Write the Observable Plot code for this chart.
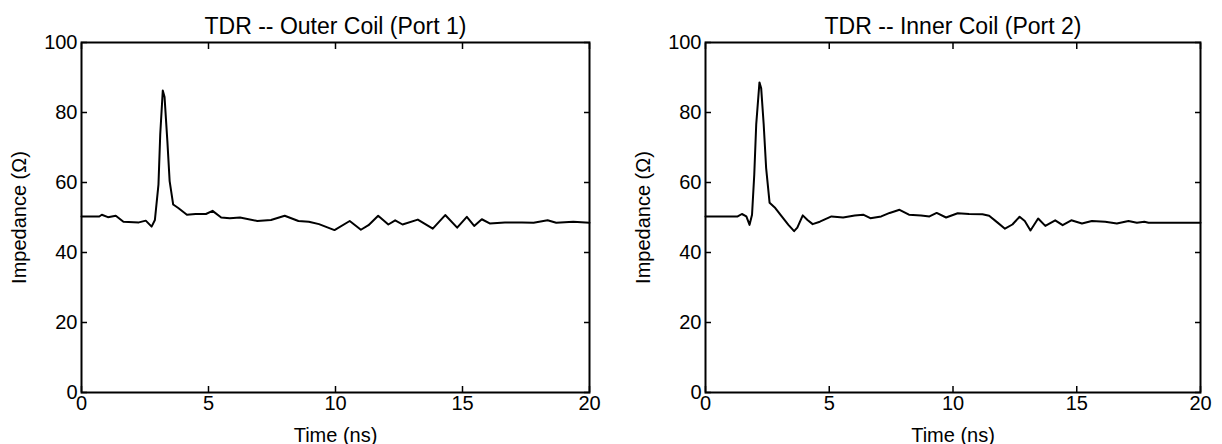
<!DOCTYPE html>
<html>
<head>
<meta charset="utf-8">
<script src="https://cdn.jsdelivr.net/npm/d3@7"></script>
<script src="https://cdn.jsdelivr.net/npm/@observablehq/plot@0.6"></script>
<style>
  html, body { margin: 0; padding: 0; background: #fff; }
  #wrap { display: flex; width: 1222px; height: 444px; }
  svg { font-family: "Liberation Sans", Arial, sans-serif; }
</style>
</head>
<body>
<div id="wrap"></div>
<script>
// Outer coil (Port 1): time (ns) and impedance (ohm)
const outerTime = [0, 0.7, 0.8, 1.04, 1.35, 1.65, 2.26, 2.53, 2.76, 2.89, 3.03, 3.1, 3.2, 3.27, 3.38, 3.47, 3.61, 3.81, 4.15, 4.49, 4.9, 5.16, 5.5, 5.84, 6.24, 6.92, 7.46, 8.0, 8.54, 8.95, 9.35, 9.96, 10.56, 11.0, 11.3, 11.68, 12.08, 12.35, 12.64, 13.24, 13.83, 14.32, 14.79, 15.17, 15.46, 15.76, 16.07, 16.67, 17.34, 17.8, 18.35, 18.69, 19.36, 20];
const outerZ =    [50.3, 50.3, 50.8, 50.1, 50.5, 48.8, 48.6, 49.1, 47.4, 49.3, 59.4, 73.8, 86.3, 84.4, 71.9, 60.4, 53.7, 52.7, 50.8, 51.0, 51.0, 51.9, 50.0, 49.8, 50.0, 49.0, 49.3, 50.5, 49.0, 48.8, 48.1, 46.4, 49.0, 46.5, 47.8, 50.5, 48.0, 49.2, 48.0, 49.4, 46.8, 50.7, 47.1, 50.2, 47.6, 49.5, 48.3, 48.6, 48.6, 48.5, 49.2, 48.5, 48.8, 48.5];

// Inner coil (Port 2)
const innerTime = [0, 1.3, 1.47, 1.65, 1.78, 1.88, 1.97, 2.05, 2.18, 2.25, 2.35, 2.45, 2.59, 2.82, 3.08, 3.35, 3.58, 3.71, 3.93, 4.12, 4.33, 4.62, 5.09, 5.56, 6.03, 6.37, 6.66, 7.1, 7.44, 7.84, 8.22, 8.71, 9.05, 9.34, 9.72, 10.19, 10.65, 11.19, 11.46, 11.79, 12.1, 12.4, 12.69, 12.9, 13.13, 13.44, 13.73, 14.13, 14.43, 14.78, 15.21, 15.61, 16.15, 16.62, 17.09, 17.43, 17.73, 17.9, 20];
const innerZ =    [50.3, 50.3, 51.0, 50.3, 47.9, 50.8, 62.2, 76.7, 88.6, 86.9, 76.7, 64.1, 54.2, 52.7, 50.3, 47.9, 46.1, 47.1, 50.6, 49.3, 48.1, 48.8, 50.3, 50.0, 50.6, 50.8, 49.8, 50.3, 51.3, 52.2, 50.8, 50.6, 50.3, 51.3, 50.0, 51.2, 51.0, 50.9, 50.5, 48.6, 46.8, 48.0, 50.2, 49.0, 46.3, 49.7, 47.6, 49.2, 47.8, 49.2, 48.3, 49.0, 48.8, 48.3, 49.0, 48.5, 48.8, 48.5, 48.5];

const titles = ["TDR -- Outer Coil (Port 1)", "TDR -- Inner Coil (Port 2)"];
const xTicks = [0, 5, 10, 15, 20];
const yTicks = [0, 20, 40, 60, 80, 100];
const xLabel = "Time (ns)";
const yLabel = "Impedance (Ω)";

function panel(times, values, title, ml, mr) {
  const data = times.map((t, i) => ({t, z: values[i]}));
  return Plot.plot({
    width: 611,
    height: 444,
    marginLeft: ml,
    marginRight: mr,
    marginTop: 42,
    marginBottom: 52,
    style: {fontFamily: '"Liberation Sans", Arial, sans-serif', color: "#000", background: "#fff"},
    x: {domain: [0, 20]},
    y: {domain: [0, 100]},
    marks: [
      Plot.line(data, {x: "t", y: "z", stroke: "#000", strokeWidth: 2}),
      // inward ticks on all four sides
      Plot.axisX(xTicks, {anchor: "bottom", tickSize: -6, tickFormat: () => "", label: null, strokeWidth: 1.5}),
      Plot.axisX(xTicks, {anchor: "top", tickSize: -6, tickFormat: () => "", label: null, strokeWidth: 1.5}),
      Plot.axisY(yTicks, {anchor: "left", tickSize: -6, tickFormat: () => "", label: null, strokeWidth: 1.5}),
      Plot.axisY(yTicks, {anchor: "right", tickSize: -6, tickFormat: () => "", label: null, strokeWidth: 1.5}),
      // labels
      Plot.axisX(xTicks, {anchor: "bottom", tickSize: 0, tickPadding: 3, fontSize: 20, label: xLabel, labelAnchor: "center", labelArrow: "none", labelOffset: 49}),
      Plot.axisY(yTicks, {anchor: "left", tickSize: 0, tickPadding: 4, fontSize: 20, label: yLabel, labelAnchor: "center", labelArrow: "none", labelOffset: 70}),
      Plot.frame({stroke: "#000", strokeWidth: 2}),
      Plot.text([title], {frameAnchor: "top", text: d => d, dy: -25, fontSize: 23, fill: "#000"})
    ]
  });
}

const wrap = document.getElementById("wrap");
wrap.append(panel(outerTime, outerZ, titles[0], 81, 22));
wrap.append(panel(innerTime, innerZ, titles[1], 94, 22));
</script>
</body>
</html>
